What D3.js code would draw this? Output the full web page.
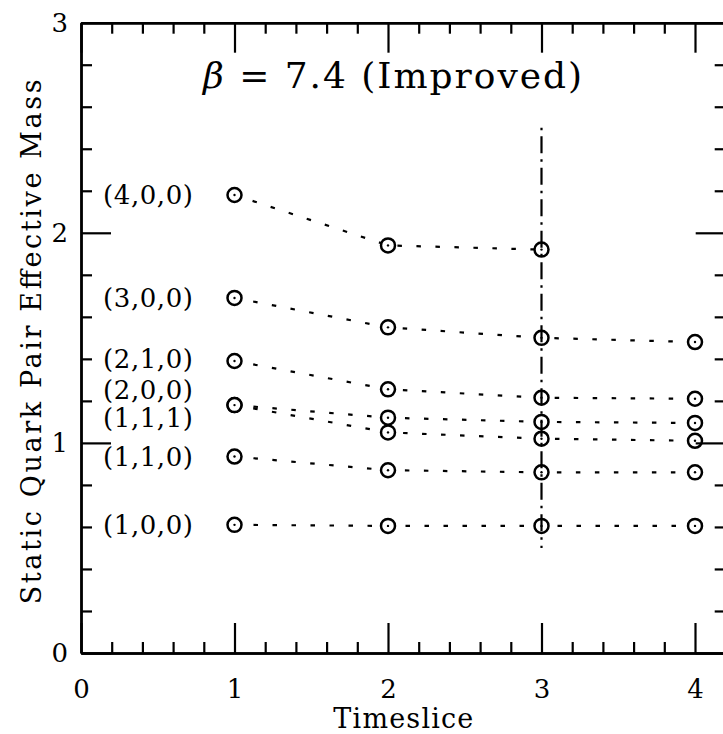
<!DOCTYPE html>
<html>
<head>
<meta charset="utf-8">
<script src="https://cdn.jsdelivr.net/npm/d3@7"></script>
<style>
  html, body { margin: 0; padding: 0; background: #fff; }
  svg { display: block; }
  text { font-family: "DejaVu Serif", "Liberation Serif", serif; fill: #000; }
</style>
</head>
<body>
<svg id="chart" width="723" height="734"></svg>
<script>
// ---- data ----
const timeslices = [1, 2, 3, 4];
const seriesNames = ["(4,0,0)", "(3,0,0)", "(2,1,0)", "(2,0,0)", "(1,1,1)", "(1,1,0)", "(1,0,0)"];
const mass400 = [2.18, 1.94, 1.92];
const mass300 = [1.69, 1.55, 1.50, 1.48];
const mass210 = [1.39, 1.255, 1.215, 1.21];
const mass200 = [1.18, 1.12, 1.10, 1.095];
const mass111 = [1.18, 1.05, 1.02, 1.01];
const mass110 = [0.935, 0.87, 0.86, 0.86];
const mass100 = [0.61, 0.605, 0.605, 0.605];
const labelValues = [2.18, 1.69, 1.40, 1.255, 1.12, 0.935, 0.61];
const markerLineX = 3;
const markerLineRange = [0.5, 2.5];
const xMajorTicks = [0, 1, 2, 3, 4];
const yMajorTicks = [0, 1, 2, 3];
const titleText = " = 7.4 (Improved)";
const xTitle = "Timeslice";
const yTitle = "Static Quark Pair Effective Mass";

const seriesValues = [mass400, mass300, mass210, mass200, mass111, mass110, mass100];

// ---- layout ----
const svg = d3.select("#chart");
const x = d3.scaleLinear().domain([0, 4.2]).range([81, 81 + 4.2 * 153.5]);
const y = d3.scaleLinear().domain([0, 3]).range([653, 22.7]);

const xMinor = d3.range(0, 4.21, 0.2).map(v => +v.toFixed(1)).filter(v => !xMajorTicks.includes(v));
const yMinor = d3.range(0, 3.01, 0.2).map(v => +v.toFixed(1)).filter(v => !yMajorTicks.includes(v));

// series dotted lines
const line = d3.line().x((d, i) => x(timeslices[i])).y(d => y(d));
const g = svg.append("g");
seriesValues.forEach(vals => {
  g.append("path")
    .attr("d", line(vals))
    .attr("fill", "none")
    .attr("stroke", "#000")
    .attr("stroke-width", 2.2)
    .attr("stroke-dasharray", "4.5,14.5");
});

// markers
seriesValues.forEach(vals => {
  vals.forEach((v, i) => {
    g.append("circle")
      .attr("cx", x(timeslices[i])).attr("cy", y(v)).attr("r", 7)
      .attr("fill", "#fff").attr("stroke", "#000").attr("stroke-width", 2.5);
    g.append("circle")
      .attr("cx", x(timeslices[i])).attr("cy", y(v)).attr("r", 1.2)
      .attr("fill", "#000");
  });
});

// vertical dash-dot line
g.append("line")
  .attr("x1", x(markerLineX)).attr("x2", x(markerLineX))
  .attr("y1", y(markerLineRange[1])).attr("y2", y(markerLineRange[0]))
  .attr("stroke", "#000").attr("stroke-width", 2.2)
  .attr("stroke-dasharray", "2.5,6,17,6");

// series labels
seriesNames.forEach((name, i) => {
  svg.append("text")
    .attr("x", 103).attr("y", y(labelValues[i]))
    .attr("dy", "0.36em")
    .attr("font-size", 26)
    .attr("textLength", 90).attr("lengthAdjust", "spacing")
    .text(name);
});

// frame + ticks
function styleAxis(sel) {
  sel.select(".domain").attr("stroke-width", 2.4);
  sel.selectAll(".tick line").attr("stroke-width", 2.2);
}
const bottomMajor = svg.append("g").attr("transform", `translate(0,${y(0)})`)
  .call(d3.axisBottom(x).tickValues(xMajorTicks).tickSize(-30).tickSizeOuter(0).tickPadding(27).tickFormat(d3.format("d")));
bottomMajor.call(styleAxis);
bottomMajor.selectAll("text").style("font-size", "26px").style("font-family", "DejaVu Serif");
svg.append("g").attr("transform", `translate(0,${y(0)})`)
  .call(d3.axisBottom(x).tickValues(xMinor).tickSize(-11).tickSizeOuter(0).tickFormat(""))
  .call(styleAxis);

const topMajor = svg.append("g").attr("transform", `translate(0,${y(3)})`)
  .call(d3.axisTop(x).tickValues(xMajorTicks).tickSize(-30).tickSizeOuter(0).tickFormat(""));
topMajor.call(styleAxis);
svg.append("g").attr("transform", `translate(0,${y(3)})`)
  .call(d3.axisTop(x).tickValues(xMinor).tickSize(-11).tickSizeOuter(0).tickFormat(""))
  .call(styleAxis);

const leftMajor = svg.append("g").attr("transform", `translate(${x(0)},0)`)
  .call(d3.axisLeft(y).tickValues(yMajorTicks).tickSize(-30).tickSizeOuter(0).tickPadding(13).tickFormat(d3.format("d")));
leftMajor.call(styleAxis);
leftMajor.selectAll("text").style("font-size", "26px").style("font-family", "DejaVu Serif");
svg.append("g").attr("transform", `translate(${x(0)},0)`)
  .call(d3.axisLeft(y).tickValues(yMinor).tickSize(-11).tickSizeOuter(0).tickFormat(""))
  .call(styleAxis);

svg.append("g").attr("transform", `translate(${x(4.2)},0)`)
  .call(d3.axisRight(y).tickValues(yMajorTicks).tickSize(-30).tickSizeOuter(0).tickFormat(""))
  .call(styleAxis);
svg.append("g").attr("transform", `translate(${x(4.2)},0)`)
  .call(d3.axisRight(y).tickValues(yMinor).tickSize(-11).tickSizeOuter(0).tickFormat(""))
  .call(styleAxis);

// title
const title = svg.append("text").attr("x", 203).attr("y", 88).attr("font-size", 36)
  .attr("textLength", 379).attr("lengthAdjust", "spacing");
title.append("tspan").attr("font-style", "italic").text("β");
title.append("tspan").text(titleText);

// axis titles
svg.append("text").attr("x", (x(0) + x(4.2)) / 2).attr("y", 728)
  .attr("text-anchor", "middle").attr("font-size", 27)
  .attr("textLength", 140).attr("lengthAdjust", "spacing").text(xTitle);
svg.append("text")
  .attr("transform", `translate(41,${(y(0) + y(3)) / 2 + 4}) rotate(-90)`)
  .attr("text-anchor", "middle").attr("font-size", 27)
  .attr("textLength", 525).attr("lengthAdjust", "spacing").text(yTitle);
</script>
</body>
</html>
